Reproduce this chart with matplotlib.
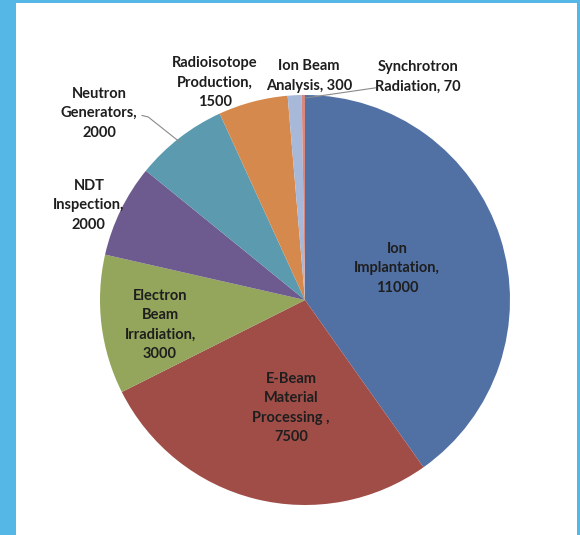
import matplotlib
matplotlib.use("Agg")
import matplotlib.pyplot as plt
from matplotlib.patches import Rectangle

categories = ["Ion\nImplantation,\n11000", "E-Beam\nMaterial\nProcessing ,\n7500",
              "Electron\nBeam\nIrradiation,\n3000", "NDT\nInspection,\n2000",
              "Neutron\nGenerators,\n2000", "Radioisotope\nProduction,\n1500",
              "Ion Beam\nAnalysis, 300", "Synchrotron\nRadiation, 70"]
values = [11000, 7500, 3000, 2000, 2000, 1500, 300, 70]
colors = ["#5171A5", "#A04D48", "#93A65B", "#6D5A8E", "#5B9AAF", "#D6894C", "#A8B8D9", "#D98880"]

# label positions (data coords, pie radius = 1)
label_pos = [(0.449, 0.156), (-0.068, -0.527), (-0.707, -0.122), (-1.054, 0.463),
             (-1.005, 0.912), (-0.439, 1.059), (0.020, 1.093), (0.551, 1.088)]

plt.rcParams['font.family'] = ['Lato', 'DejaVu Sans']

fig = plt.figure(figsize=(5.8, 5.35), dpi=100)
fig.patch.set_facecolor("#55B7E5")
fig.patches.append(Rectangle((16/580, 0), (577-16)/580, (535-3)/535,
                             transform=fig.transFigure, facecolor="white",
                             edgecolor="none", zorder=-10))

ax = fig.add_axes([100/580, 30/535, 410/580, 410/535])
ax.set_zorder(5)

ax.pie(values, colors=colors, startangle=90, counterclock=False, radius=1,
       wedgeprops=dict(linewidth=0))
ax.set_xlim(-1, 1)
ax.set_ylim(-1, 1)
ax.set_aspect("equal")
ax.axis("off")

for lab, (x, y) in zip(categories, label_pos):
    ax.text(x, y, lab, ha="center", va="center", fontsize=10.5, fontweight="bold",
            color="#1e1e1e", linespacing=1.5, clip_on=False)

# leader lines
ax.plot([-0.795, -0.765, -0.61], [0.90, 0.893, 0.77], color="#8a8a8a", lw=0.8,
        clip_on=False)
ax.plot([0.0, 0.345], [0.985, 1.035], color="#8a8a8a", lw=0.8, clip_on=False)

fig.savefig("out.png", dpi=100, facecolor=fig.get_facecolor())
